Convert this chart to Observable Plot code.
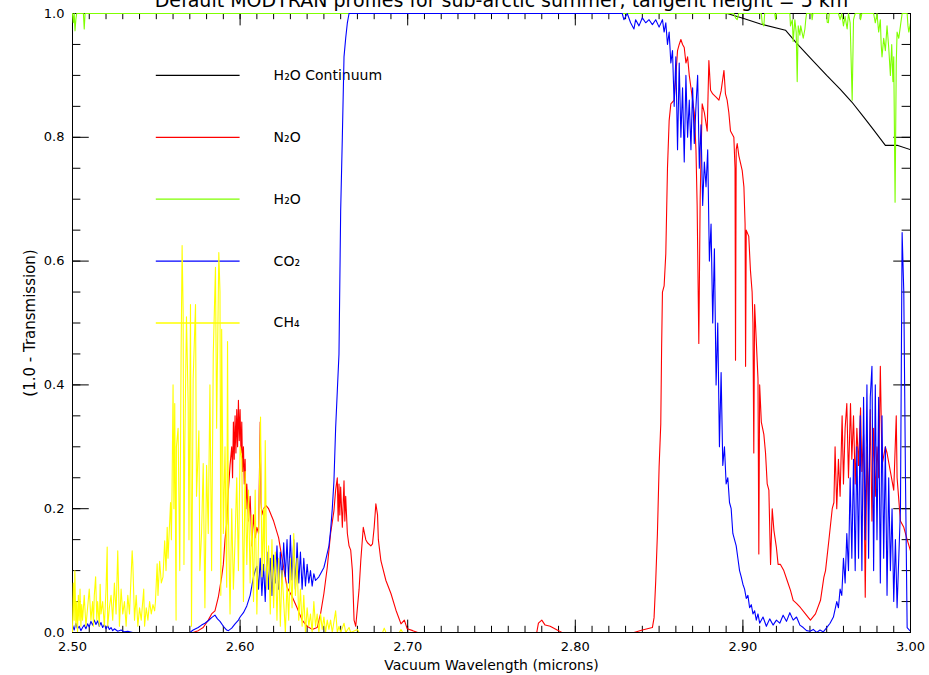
<!DOCTYPE html>
<html><head><meta charset="utf-8">
<script src="https://cdn.jsdelivr.net/npm/d3@7"></script>
<script src="https://cdn.jsdelivr.net/npm/@observablehq/plot@0.6"></script>
<style>body{margin:0;background:#fff;}</style>
</head><body><div id="chart"></div>
<script>
// ---- data: [wavelength (microns), 1 - transmission] ----
const continuum = [[2.500,1.0],[2.8906,1.0],[2.9005,0.992],[2.9105,0.983],[2.9254,0.973],[2.9324,0.951],[2.941,0.926],[2.950,0.900],[2.958,0.878],[2.965,0.857],[2.972,0.833],[2.978,0.812],[2.985,0.787],[2.992,0.787],[3.000,0.780]];

const n2o = [[2.500,0],[2.572,0],[2.575,0.003],[2.578,0.008],[2.581,0.02],[2.583,0.03],[2.585,0.035],[2.587,0.057],[2.589,0.09],[2.590,0.11],[2.591,0.15],[2.592,0.176],[2.593,0.229],[2.594,0.27],[2.595,0.30],[2.5955,0.25],[2.596,0.34],[2.5965,0.28],[2.597,0.35],[2.5975,0.29],[2.598,0.36],[2.5985,0.30],[2.599,0.375],[2.5995,0.31],[2.600,0.36],[2.6005,0.29],[2.601,0.34],[2.6015,0.26],[2.602,0.30],[2.6025,0.24],[2.603,0.28],[2.6035,0.20],[2.604,0.24],[2.605,0.18],[2.606,0.22],[2.607,0.14],[2.608,0.19],[2.609,0.153],[2.610,0.17],[2.611,0.16],[2.612,0.34],[2.6125,0.21],[2.613,0.19],[2.614,0.20],[2.6155,0.205],[2.617,0.20],[2.620,0.18],[2.623,0.153],[2.625,0.12],[2.626,0.105],[2.628,0.073],[2.631,0.058],[2.634,0.04],[2.637,0.02],[2.640,0.01],[2.643,0.005],[2.646,0.008],[2.648,0.03],[2.650,0.063],[2.652,0.105],[2.654,0.16],[2.656,0.197],[2.657,0.23],[2.658,0.25],[2.6585,0.18],[2.659,0.24],[2.6595,0.19],[2.660,0.235],[2.661,0.17],[2.662,0.245],[2.6625,0.18],[2.663,0.22],[2.664,0.16],[2.665,0.14],[2.666,0.133],[2.667,0.10],[2.668,0.02],[2.669,0.01],[2.670,0.04],[2.671,0.07],[2.672,0.116],[2.6735,0.17],[2.675,0.15],[2.676,0.145],[2.678,0.14],[2.679,0.143],[2.680,0.17],[2.681,0.208],[2.682,0.19],[2.6825,0.15],[2.684,0.116],[2.687,0.084],[2.690,0.063],[2.693,0.036],[2.696,0.014],[2.698,0.02],[2.6997,0.006],[2.703,0.003],[2.706,0],[2.777,0],[2.778,0.015],[2.780,0.02],[2.782,0.012],[2.785,0.01],[2.790,0.003],[2.792,0],[2.835,0],[2.840,0.004],[2.846,0.008],[2.847,0.024],[2.848,0.084],[2.849,0.16],[2.850,0.267],[2.851,0.337],[2.8515,0.46],[2.852,0.55],[2.853,0.56],[2.854,0.612],[2.855,0.75],[2.856,0.827],[2.857,0.854],[2.859,0.86],[2.861,0.94],[2.862,0.95],[2.863,0.958],[2.864,0.95],[2.865,0.945],[2.866,0.92],[2.867,0.93],[2.868,0.90],[2.869,0.88],[2.870,0.86],[2.871,0.84],[2.872,0.78],[2.8727,0.69],[2.8737,0.467],[2.8745,0.70],[2.8757,0.854],[2.877,0.84],[2.8787,0.81],[2.8797,0.924],[2.8807,0.876],[2.882,0.87],[2.884,0.865],[2.8857,0.86],[2.887,0.875],[2.8887,0.908],[2.8896,0.87],[2.8906,0.86],[2.8916,0.84],[2.8926,0.81],[2.8946,0.80],[2.8953,0.75],[2.8956,0.44],[2.8960,0.78],[2.8966,0.79],[2.8976,0.77],[2.8996,0.746],[2.9006,0.72],[2.9013,0.66],[2.9016,0.43],[2.902,0.65],[2.9035,0.64],[2.9045,0.585],[2.9055,0.55],[2.906,0.50],[2.9065,0.29],[2.907,0.53],[2.9085,0.44],[2.909,0.41],[2.9095,0.127],[2.910,0.40],[2.911,0.34],[2.9125,0.32],[2.9135,0.29],[2.9145,0.24],[2.9155,0.23],[2.9165,0.11],[2.9175,0.20],[2.9185,0.165],[2.920,0.137],[2.921,0.11],[2.9224,0.11],[2.9244,0.10],[2.9264,0.084],[2.9284,0.068],[2.930,0.052],[2.932,0.047],[2.9344,0.04],[2.9373,0.03],[2.9403,0.02],[2.9433,0.03],[2.9463,0.052],[2.9483,0.089],[2.9493,0.10],[2.9513,0.149],[2.9533,0.20],[2.9543,0.21],[2.955,0.30],[2.956,0.20],[2.957,0.28],[2.958,0.22],[2.9592,0.35],[2.960,0.24],[2.961,0.33],[2.962,0.37],[2.963,0.25],[2.9642,0.37],[2.965,0.28],[2.966,0.35],[2.967,0.24],[2.968,0.33],[2.969,0.27],[2.9702,0.363],[2.971,0.26],[2.972,0.32],[2.973,0.057],[2.974,0.30],[2.975,0.20],[2.976,0.36],[2.977,0.18],[2.978,0.33],[2.979,0.22],[2.980,0.30],[2.981,0.25],[2.982,0.43],[2.983,0.27],[2.985,0.30],[2.986,0.29],[2.988,0.26],[2.990,0.23],[2.9915,0.35],[2.992,0.25],[2.994,0.18],[2.996,0.17],[2.998,0.15],[3.000,0.132]];

const h2o = [[2.500,1.0],[2.5005,0.985],[2.501,1.0],[2.5015,0.972],[2.502,0.99],[2.5025,1.0],[2.5065,1.0],[2.507,0.975],[2.5075,1.0],[2.8945,1.0],[2.8956,0.993],[2.8966,0.99],[2.8975,1.0],[2.911,1.0],[2.9115,0.985],[2.9125,0.98],[2.913,1.0],[2.919,1.0],[2.9195,0.99],[2.920,1.0],[2.928,1.0],[2.9284,0.98],[2.9295,0.99],[2.930,0.955],[2.931,0.99],[2.9318,0.97],[2.9324,0.89],[2.933,0.98],[2.934,0.965],[2.9345,0.98],[2.936,0.96],[2.937,0.975],[2.9375,0.99],[2.938,1.0],[2.941,1.0],[2.9413,0.99],[2.9418,1.0],[2.950,1.0],[2.9503,0.986],[2.951,0.985],[2.9515,1.0],[2.957,1.0],[2.958,0.99],[2.959,1.0],[2.960,0.98],[2.961,0.995],[2.9622,0.975],[2.963,1.0],[2.964,0.985],[2.9652,0.86],[2.966,0.99],[2.967,1.0],[2.970,1.0],[2.9702,0.99],[2.971,1.0],[2.978,1.0],[2.979,0.985],[2.980,1.0],[2.981,0.97],[2.982,0.99],[2.9825,0.95],[2.983,0.93],[2.984,0.96],[2.985,0.94],[2.986,0.98],[2.987,0.945],[2.988,0.90],[2.9888,0.95],[2.9895,0.89],[2.990,0.93],[2.9908,0.695],[2.9915,0.92],[2.992,0.97],[2.993,0.96],[2.994,0.98],[2.995,1.0],[2.998,1.0],[2.9985,0.98],[2.999,0.97],[3.000,0.985]];

const co2 = [[2.500,0.012],[2.501,0.004],[2.502,0.015],[2.503,0.006],[2.504,0.010],[2.505,0.003],[2.506,0.008],[2.507,0.012],[2.508,0.006],[2.509,0.014],[2.510,0.009],[2.511,0.018],[2.512,0.012],[2.513,0.020],[2.514,0.013],[2.515,0.019],[2.516,0.010],[2.517,0.016],[2.518,0.008],[2.519,0.013],[2.520,0.006],[2.521,0.011],[2.522,0.005],[2.523,0.008],[2.524,0.003],[2.525,0.006],[2.527,0.002],[2.529,0.004],[2.531,0.001],[2.533,0.002],[2.536,0],[2.570,0],[2.572,0.004],[2.575,0.008],[2.577,0.012],[2.579,0.015],[2.581,0.019],[2.583,0.024],[2.585,0.028],[2.5865,0.022],[2.588,0.018],[2.590,0.010],[2.592,0.004],[2.593,0.003],[2.595,0.007],[2.597,0.014],[2.599,0.020],[2.600,0.025],[2.602,0.032],[2.604,0.043],[2.606,0.06],[2.607,0.075],[2.608,0.09],[2.609,0.10],[2.610,0.107],[2.611,0.07],[2.612,0.12],[2.613,0.06],[2.614,0.11],[2.615,0.05],[2.616,0.13],[2.617,0.07],[2.618,0.12],[2.619,0.06],[2.620,0.125],[2.621,0.08],[2.622,0.14],[2.623,0.07],[2.624,0.13],[2.625,0.08],[2.626,0.145],[2.627,0.09],[2.628,0.15],[2.629,0.08],[2.630,0.157],[2.631,0.085],[2.632,0.15],[2.633,0.07],[2.634,0.145],[2.635,0.08],[2.636,0.13],[2.637,0.07],[2.638,0.12],[2.639,0.075],[2.640,0.11],[2.641,0.08],[2.642,0.10],[2.643,0.075],[2.644,0.095],[2.645,0.084],[2.647,0.09],[2.648,0.095],[2.650,0.105],[2.651,0.116],[2.653,0.14],[2.654,0.165],[2.655,0.20],[2.656,0.245],[2.657,0.33],[2.658,0.39],[2.659,0.45],[2.660,0.68],[2.661,0.80],[2.662,0.93],[2.663,0.96],[2.664,0.985],[2.665,1.0],[2.828,1.0],[2.829,0.99],[2.831,1.0],[2.833,0.985],[2.835,0.975],[2.836,0.99],[2.838,0.98],[2.840,0.993],[2.842,0.985],[2.844,0.99],[2.846,0.982],[2.848,0.99],[2.850,0.978],[2.852,0.99],[2.853,0.97],[2.854,0.985],[2.855,0.95],[2.856,0.97],[2.857,0.92],[2.858,0.94],[2.859,0.85],[2.860,0.93],[2.861,0.78],[2.862,0.92],[2.863,0.80],[2.864,0.88],[2.865,0.76],[2.866,0.90],[2.867,0.80],[2.868,0.86],[2.869,0.78],[2.870,0.88],[2.871,0.79],[2.872,0.85],[2.873,0.90],[2.874,0.75],[2.875,0.82],[2.876,0.69],[2.877,0.76],[2.878,0.72],[2.879,0.78],[2.880,0.60],[2.881,0.66],[2.882,0.50],[2.883,0.62],[2.884,0.40],[2.885,0.50],[2.886,0.30],[2.887,0.42],[2.888,0.27],[2.889,0.30],[2.890,0.24],[2.891,0.25],[2.892,0.21],[2.893,0.20],[2.894,0.16],[2.895,0.15],[2.896,0.14],[2.897,0.12],[2.898,0.10],[2.899,0.09],[2.900,0.078],[2.901,0.07],[2.902,0.055],[2.903,0.06],[2.904,0.04],[2.905,0.045],[2.906,0.03],[2.907,0.035],[2.908,0.02],[2.909,0.03],[2.910,0.015],[2.912,0.025],[2.914,0.01],[2.916,0.022],[2.918,0.012],[2.920,0.02],[2.922,0.015],[2.924,0.028],[2.926,0.018],[2.928,0.032],[2.930,0.02],[2.932,0.025],[2.934,0.012],[2.936,0.008],[2.938,0.003],[2.940,0.002],[2.942,0.005],[2.944,0],[2.946,0.004],[2.948,0.001],[2.950,0.008],[2.952,0.015],[2.954,0.025],[2.956,0.05],[2.957,0.04],[2.958,0.07],[2.959,0.06],[2.960,0.12],[2.961,0.08],[2.962,0.16],[2.963,0.10],[2.964,0.25],[2.965,0.12],[2.966,0.28],[2.967,0.10],[2.968,0.30],[2.969,0.12],[2.970,0.35],[2.971,0.10],[2.972,0.38],[2.973,0.15],[2.974,0.40],[2.975,0.12],[2.976,0.38],[2.977,0.43],[2.978,0.10],[2.979,0.40],[2.980,0.15],[2.981,0.38],[2.982,0.08],[2.983,0.35],[2.984,0.12],[2.985,0.30],[2.986,0.06],[2.987,0.25],[2.988,0.10],[2.989,0.20],[2.990,0.05],[2.991,0.15],[2.992,0.04],[2.993,0.12],[2.994,0.20],[2.995,0.646],[2.996,0.55],[2.997,0.25],[2.998,0.008],[3.000,0.002]];

const ch4 = [[2.5000,0],[2.5005,0.08],[2.501,0.02],[2.5014,0.10],[2.502,0.01],[2.5025,0.05],[2.503,0],[2.5035,0.06],[2.504,0.02],[2.5045,0.07],[2.505,0.01],[2.5055,0.045],[2.506,0.02],[2.507,0.06],[2.508,0.01],[2.509,0.04],[2.510,0.07],[2.511,0.02],[2.512,0.05],[2.5125,0.01],[2.513,0.06],[2.5138,0.09],[2.5145,0.02],[2.515,0.05],[2.516,0.01],[2.5165,0.078],[2.517,0.03],[2.518,0.05],[2.519,0.01],[2.520,0.07],[2.5207,0.138],[2.521,0.01],[2.522,0.04],[2.523,0.06],[2.524,0.02],[2.525,0.08],[2.526,0.03],[2.527,0.132],[2.528,0.01],[2.529,0.07],[2.530,0.03],[2.531,0.05],[2.532,0.01],[2.533,0.06],[2.534,0.03],[2.5356,0.132],[2.536,0.111],[2.537,0.02],[2.538,0.06],[2.539,0.01],[2.540,0.04],[2.541,0.02],[2.5425,0.07],[2.543,0.01],[2.544,0.04],[2.545,0.02],[2.546,0.05],[2.547,0.03],[2.548,0.045],[2.549,0.035],[2.5495,0.05],[2.5505,0.111],[2.551,0.06],[2.552,0.115],[2.553,0.08],[2.554,0.09],[2.555,0.148],[2.5558,0.10],[2.5565,0.17],[2.557,0.12],[2.558,0.18],[2.5585,0.21],[2.559,0.15],[2.5594,0.23],[2.560,0.40],[2.5605,0.20],[2.561,0.37],[2.5618,0.02],[2.562,0.30],[2.563,0.33],[2.564,0.10],[2.5648,0.45],[2.5654,0.625],[2.566,0.52],[2.5665,0.11],[2.567,0.30],[2.568,0.51],[2.569,0.37],[2.5695,0.15],[2.5704,0.53],[2.571,0.01],[2.572,0.41],[2.5734,0.53],[2.574,0.22],[2.5754,0.326],[2.576,0.10],[2.577,0.16],[2.578,0.273],[2.579,0.04],[2.580,0.27],[2.581,0.16],[2.582,0.40],[2.583,0.10],[2.584,0.45],[2.5853,0.59],[2.586,0.33],[2.5873,0.614],[2.588,0.55],[2.5885,0.06],[2.589,0.49],[2.590,0.16],[2.591,0.30],[2.592,0.073],[2.5925,0.47],[2.593,0.19],[2.594,0.03],[2.595,0.20],[2.596,0.07],[2.597,0.15],[2.598,0.25],[2.599,0.10],[2.600,0.30],[2.601,0.28],[2.602,0.05],[2.603,0.26],[2.604,0.11],[2.605,0.23],[2.606,0.08],[2.607,0.19],[2.608,0.05],[2.609,0.23],[2.610,0.03],[2.611,0.15],[2.6122,0.348],[2.613,0.09],[2.614,0.20],[2.6145,0.10],[2.615,0.31],[2.616,0.07],[2.617,0.14],[2.618,0.03],[2.619,0.15],[2.620,0.04],[2.621,0.13],[2.622,0.02],[2.623,0.12],[2.624,0.01],[2.625,0.10],[2.626,0.05],[2.627,0],[2.628,0.08],[2.629,0.02],[2.630,0.12],[2.631,0.04],[2.632,0.16],[2.633,0.06],[2.634,0.12],[2.635,0.02],[2.636,0.07],[2.637,0.01],[2.638,0.06],[2.639,0],[2.640,0.04],[2.641,0.01],[2.642,0.03],[2.643,0],[2.644,0.05],[2.645,0.01],[2.646,0.03],[2.647,0],[2.648,0.03],[2.649,0.005],[2.650,0.025],[2.651,0],[2.652,0.02],[2.653,0.005],[2.654,0.02],[2.655,0],[2.657,0.035],[2.658,0],[2.659,0.01],[2.660,0],[2.662,0.015],[2.663,0],[2.665,0.008],[2.666,0],[2.670,0.005],[2.671,0],[2.685,0],[2.686,0.007],[2.687,0],[2.695,0],[2.696,0.005],[2.697,0],[3.000,0]];

const seriesNames = ["H₂O Continuum", "N₂O", "H₂O", "CO₂", "CH₄"];
const seriesColors = ["#000000", "#ff0000", "#7fff00", "#0000ff", "#ffff00"];
const legendLevels = [0.9, 0.8, 0.7, 0.6, 0.5];
const xMajorTicks = [2.5, 2.6, 2.7, 2.8, 2.9, 3.0];
const yMajorTicks = [0, 0.2, 0.4, 0.6, 0.8, 1.0];
const titleText = "Default MODTRAN profiles for sub-arctic summer, tangent height = 5 km";
const xLabelText = "Vacuum Wavelength (microns)";
const yLabelText = "(1.0 - Transmission)";

// ---- assembled tables ----
const seriesData = [continuum, n2o, h2o, co2, ch4];
const legendRows = seriesNames.map((name, i) => ({name, color: seriesColors[i], level: legendLevels[i]}));
const xMinorTicks = d3.range(250, 301).map(i => i / 100);
const yMinorTicks = d3.range(0, 21).map(i => i / 20);

const font = "DejaVu Sans, Verdana, sans-serif";

const chart = Plot.plot({
  width: 929,
  height: 675,
  marginLeft: 72,
  marginRight: 19,
  marginTop: 13,
  marginBottom: 43,
  style: {fontFamily: font, fontSize: "13px", background: "#fff", overflow: "visible"},
  x: {domain: [2.5, 3.0]},
  y: {domain: [0, 1]},
  color: {type: "identity"},
  marks: [
    // inward IDL-style ticks (length in normalized units)
    Plot.ruleX(xMinorTicks, {x: d => d, y1: () => 0, y2: () => 0.01, stroke: "#000", strokeWidth: 1}),
    Plot.ruleX(xMajorTicks, {x: d => d, y1: () => 0, y2: () => 0.02, stroke: "#000", strokeWidth: 1}),
    Plot.ruleX(xMinorTicks, {x: d => d, y1: () => 1, y2: () => 0.99, stroke: "#000", strokeWidth: 1}),
    Plot.ruleX(xMajorTicks, {x: d => d, y1: () => 1, y2: () => 0.98, stroke: "#000", strokeWidth: 1}),
    Plot.ruleY(yMinorTicks, {y: d => d, x1: () => 2.5, x2: () => 2.505, stroke: "#000", strokeWidth: 1}),
    Plot.ruleY(yMajorTicks, {y: d => d, x1: () => 2.5, x2: () => 2.51, stroke: "#000", strokeWidth: 1}),
    Plot.ruleY(yMinorTicks, {y: d => d, x1: () => 3.0, x2: () => 2.995, stroke: "#000", strokeWidth: 1}),
    Plot.ruleY(yMajorTicks, {y: d => d, x1: () => 3.0, x2: () => 2.99, stroke: "#000", strokeWidth: 1}),
    Plot.frame({stroke: "#000", strokeWidth: 1}),
    Plot.axisX({ticks: xMajorTicks, tickSize: 0, tickPadding: 9, tickFormat: d3.format(".2f"), label: null, fontSize: 13, fontFamily: font}),
    Plot.axisY({ticks: yMajorTicks, tickSize: 0, tickPadding: 8, tickFormat: d3.format(".1f"), label: null, fontSize: 13, fontFamily: font}),
    // legend, placed in data coordinates like the original
    Plot.ruleY(legendRows, {y: "level", x1: () => 2.55, x2: () => 2.60, stroke: "color", strokeWidth: 1.3}),
    Plot.text(legendRows, {x: () => 2.62, y: "level", text: "name", textAnchor: "start", fontSize: 14, fill: "#000"}),
    // spectra
    ...seriesData.map((data, i) => Plot.line(data, {x: d => d[0], y: d => d[1], stroke: seriesColors[i], strokeWidth: 1.1, clip: true})),
    // titles
    Plot.text([titleText], {frameAnchor: "top", dy: -7, dx: 10, lineAnchor: "bottom", textAnchor: "middle", fontSize: 19, fill: "#000"}),
    Plot.text([xLabelText], {frameAnchor: "bottom", dy: 37, textAnchor: "middle", fontSize: 14, fill: "#000"}),
    Plot.text([yLabelText], {frameAnchor: "left", dx: -42, rotate: -90, textAnchor: "middle", fontSize: 15, fill: "#000"})
  ]
});
document.getElementById("chart").appendChild(chart);
</script>
</body></html>
